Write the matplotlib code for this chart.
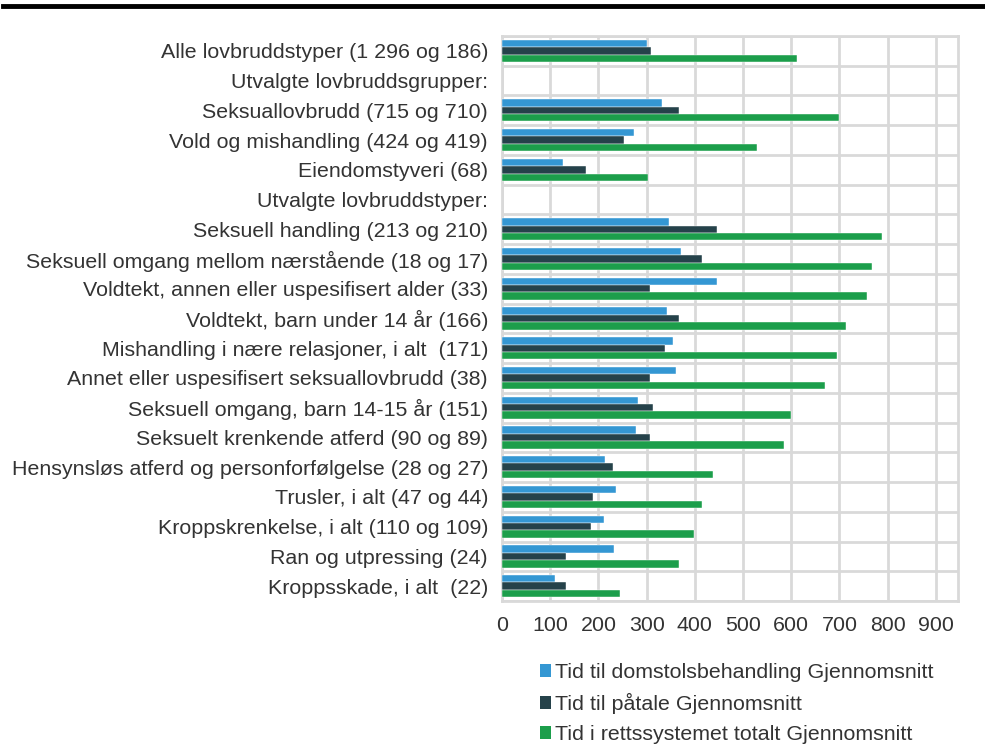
import matplotlib
matplotlib.use("Agg")
import matplotlib.pyplot as plt
import numpy as np
from matplotlib.patches import Patch

plt.rcParams['font.family'] = ['Liberation Sans', 'DejaVu Sans']

categories = [
    "Alle lovbruddstyper (1 296 og 186)",
    "Utvalgte lovbruddsgrupper:",
    "Seksuallovbrudd (715 og 710)",
    "Vold og mishandling (424 og 419)",
    "Eiendomstyveri (68)",
    "Utvalgte lovbruddstyper:",
    "Seksuell handling (213 og 210)",
    "Seksuell omgang mellom nærstående (18 og 17)",
    "Voldtekt, annen eller uspesifisert alder (33)",
    "Voldtekt, barn under 14 år (166)",
    "Mishandling i nære relasjoner, i alt  (171)",
    "Annet eller uspesifisert seksuallovbrudd (38)",
    "Seksuell omgang, barn 14-15 år (151)",
    "Seksuelt krenkende atferd (90 og 89)",
    "Hensynsløs atferd og personforfølgelse (28 og 27)",
    "Trusler, i alt (47 og 44)",
    "Kroppskrenkelse, i alt (110 og 109)",
    "Ran og utpressing (24)",
    "Kroppsskade, i alt  (22)",
]
nan = np.nan
domstol = [300, nan, 332, 274, 127, nan, 346, 371, 447, 342, 354, 362, 283, 279, 213, 236, 212, 233, 110]
paatale = [310, nan, 367, 253, 175, nan, 445, 415, 308, 368, 338, 306, 313, 307, 230, 189, 185, 133, 133]
totalt = [611, nan, 700, 528, 303, nan, 789, 767, 757, 713, 695, 670, 599, 585, 438, 415, 398, 368, 245]
series_names = [
    "Tid til domstolsbehandling Gjennomsnitt",
    "Tid til påtale Gjennomsnitt",
    "Tid i rettssystemet totalt Gjennomsnitt",
]
colors = ["#3497D3", "#25424A", "#1C9E4B"]
fs = 15.4
txt = "#333333"

fig = plt.figure(figsize=(9.85, 7.45), dpi=100)
ax = fig.add_axes([502 / 985, 1 - 601 / 745, 456 / 985, 565 / 745])

y = np.arange(len(categories))
h = 0.25
for i, (vals, c) in enumerate(zip([domstol, paatale, totalt], colors)):
    ax.barh(y + (i - 1) * h, vals, height=h, color=c, edgecolor="#ffffff",
            linewidth=0.3, zorder=3)

ax.set_xlim(0, 946)
ax.set_ylim(len(categories) - 0.5, -0.5)
ax.set_xticks(range(0, 1000, 100))
ax.set_yticks(y)
ax.set_yticklabels(categories, fontsize=fs, color=txt)
ax.set_yticks(np.arange(-0.5, len(categories), 1), minor=True)
ax.tick_params(axis="y", which="both", length=0, pad=10)
ax.tick_params(axis="x", length=0, labelsize=fs, labelcolor=txt, pad=11)
ax.grid(True, axis="x", which="major", color="#d9d9d9", linewidth=2, zorder=0)
ax.grid(True, axis="y", which="minor", color="#d9d9d9", linewidth=2, zorder=0)
ax.grid(False, axis="y", which="major")
for s in ax.spines.values():
    s.set_color("#d9d9d9")
    s.set_linewidth(2)

handles = [Patch(facecolor=c, edgecolor="none") for c in colors]
fig.legend(handles, series_names, loc="upper left",
           bbox_to_anchor=(540 / 985, 1 - 663 / 745), frameon=False,
           fontsize=fs, labelcolor=txt, handlelength=0.52,
           handleheight=0.52, handletextpad=0.2, labelspacing=0.52,
           borderaxespad=0, borderpad=0)

# top rule
fig.add_artist(plt.Line2D([3 / 985, 1], [1 - 5.5 / 745] * 2, color="black",
                          linewidth=3.5, transform=fig.transFigure))

fig.savefig("out.png", dpi=100)
